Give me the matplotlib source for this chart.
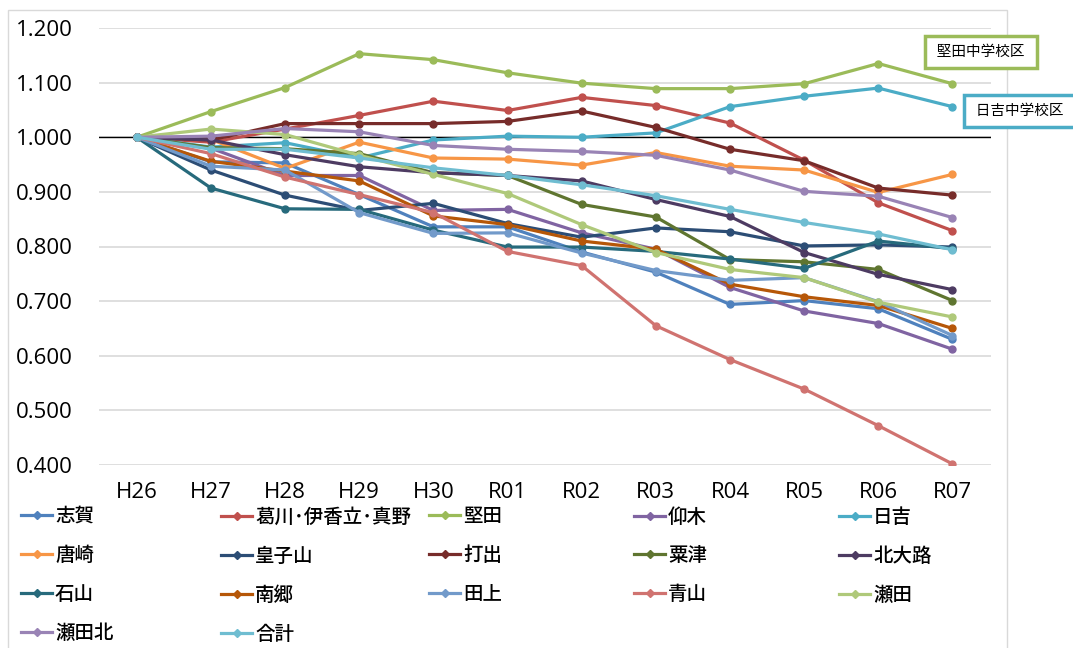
import matplotlib
matplotlib.use("Agg")
import matplotlib.pyplot as plt
from matplotlib.lines import Line2D
from matplotlib.patches import Rectangle

plt.rcParams['font.family'] = ['Open Sans', 'Noto Sans CJK JP', 'DejaVu Sans']

years = ['H26', 'H27', 'H28', 'H29', 'H30', 'R01', 'R02', 'R03', 'R04', 'R05', 'R06', 'R07']

shiga      = [1.000, 0.955, 0.953, 0.895, 0.836, 0.836, 0.790, 0.753, 0.694, 0.701, 0.686, 0.630]
katsuragawa = [1.000, 0.991, 1.015, 1.040, 1.066, 1.049, 1.073, 1.058, 1.026, 0.958, 0.880, 0.829]
katata     = [1.000, 1.047, 1.091, 1.153, 1.142, 1.118, 1.099, 1.089, 1.089, 1.098, 1.135, 1.098]
ogi        = [1.000, 0.980, 0.930, 0.930, 0.866, 0.868, 0.825, 0.795, 0.725, 0.682, 0.659, 0.612]
hiyoshi    = [1.000, 0.982, 0.990, 0.962, 0.995, 1.002, 1.000, 1.008, 1.056, 1.075, 1.090, 1.056]
karasaki   = [1.000, 0.996, 0.943, 0.991, 0.962, 0.960, 0.949, 0.972, 0.947, 0.940, 0.899, 0.932]
ojiyama    = [1.000, 0.940, 0.894, 0.866, 0.879, 0.842, 0.817, 0.834, 0.827, 0.801, 0.803, 0.799]
uchide     = [1.000, 0.995, 1.025, 1.025, 1.025, 1.029, 1.048, 1.018, 0.978, 0.957, 0.907, 0.894]
awazu      = [1.000, 0.981, 0.979, 0.970, 0.935, 0.930, 0.877, 0.854, 0.776, 0.772, 0.758, 0.701]
kitaoji    = [1.000, 0.995, 0.968, 0.946, 0.935, 0.930, 0.920, 0.886, 0.855, 0.789, 0.749, 0.721]
ishiyama   = [1.000, 0.907, 0.869, 0.868, 0.830, 0.799, 0.799, 0.791, 0.777, 0.760, 0.810, 0.796]
nango      = [1.000, 0.956, 0.938, 0.920, 0.856, 0.840, 0.810, 0.795, 0.731, 0.708, 0.692, 0.650]
tanakami   = [1.000, 0.947, 0.940, 0.862, 0.824, 0.825, 0.788, 0.756, 0.738, 0.743, 0.699, 0.637]
aoyama     = [1.000, 0.970, 0.927, 0.895, 0.862, 0.791, 0.765, 0.655, 0.593, 0.539, 0.472, 0.402]
seta       = [1.000, 1.015, 1.005, 0.967, 0.932, 0.897, 0.840, 0.789, 0.758, 0.743, 0.698, 0.671]
setakita   = [1.000, 1.002, 1.016, 1.010, 0.985, 0.978, 0.974, 0.967, 0.940, 0.901, 0.892, 0.853]
total      = [1.000, 0.978, 0.978, 0.962, 0.944, 0.930, 0.913, 0.893, 0.868, 0.844, 0.823, 0.794]

names = ['志賀', '葛川･伊香立･真野', '堅田', '仰木', '日吉',
         '唐崎', '皇子山', '打出', '粟津', '北大路',
         '石山', '南郷', '田上', '青山', '瀬田',
         '瀬田北', '合計']
series = [shiga, katsuragawa, katata, ogi, hiyoshi,
          karasaki, ojiyama, uchide, awazu, kitaoji,
          ishiyama, nango, tanakami, aoyama, seta,
          setakita, total]
colors = ['#4F81BD', '#C0504D', '#9BBB59', '#8064A2', '#4BACC6',
          '#F79646', '#2C4D75', '#772C2A', '#5F7530', '#4D3B62',
          '#276A7C', '#B65708', '#729ACA', '#D07370', '#AFC97A',
          '#9983B5', '#6FBDD1']

fig = plt.figure(figsize=(10.73, 6.48), dpi=100)
W, H = 1073, 648
ax = fig.add_axes([99 / W, 1 - 465 / H, (991 - 99) / W, (465 - 28) / H])

x = list(range(len(years)))
for name, vals, c in zip(names, series, colors):
    ax.plot(x, vals, color=c, lw=2.3, marker='o', ms=5, label=name)

ax.axhline(1.0, color='black', lw=1, zorder=1)
ax.set_xlim(-0.51, 11.52)
ax.set_ylim(0.4, 1.2)
ax.set_yticks([0.4, 0.5, 0.6, 0.7, 0.8, 0.9, 1.0, 1.1, 1.2])
ax.set_yticklabels([f'{v:.3f}' for v in ax.get_yticks()])
ax.set_xticks(x)
ax.set_xticklabels(years)
ax.grid(axis='y', color='#d9d9d9', lw=1.2)
ax.set_axisbelow(True)
for s in ax.spines.values():
    s.set_visible(False)
ax.tick_params(axis='both', length=0, labelsize=16, colors='black')
ax.tick_params(axis='y', pad=19)
ax.tick_params(axis='x', pad=12)

# legend: 5 evenly spaced columns, row-major order like the original
col_x = [21, 221, 429, 634, 839]
for ci in range(5):
    idx = list(range(ci, len(names), 5))
    hs = [Line2D([], [], color=colors[i], lw=2.3, marker='D', ms=4) for i in idx]
    fig.legend(hs, [names[i] for i in idx], loc='upper left',
               bbox_to_anchor=(col_x[ci] / W, 1 - 508 / H),
               frameon=False, handlelength=1.6, handletextpad=0.15,
               labelspacing=1.06, borderpad=0, borderaxespad=0,
               prop={'size': 14, 'weight': 'medium'})

# callout boxes
fig.text(981 / W, 1 - 52 / H, ' 堅田中学校区 ', ha='center', va='center', fontsize=10.5,
         bbox=dict(boxstyle='square,pad=0.6', fc='white', ec='#9BBB59', lw=2.5))
fig.text(1020 / W, 1 - 111 / H, ' 日吉中学校区 ', ha='center', va='center', fontsize=10.5,
         bbox=dict(boxstyle='square,pad=0.6', fc='white', ec='#4BACC6', lw=2.5))

fig.patches.append(Rectangle((8 / W, -0.05), (1007 - 8) / W, 1.05 - 10 / H,
                             transform=fig.transFigure, fill=False,
                             ec='#d9d9d9', lw=1, zorder=0))

fig.savefig('out.png', dpi=100)
